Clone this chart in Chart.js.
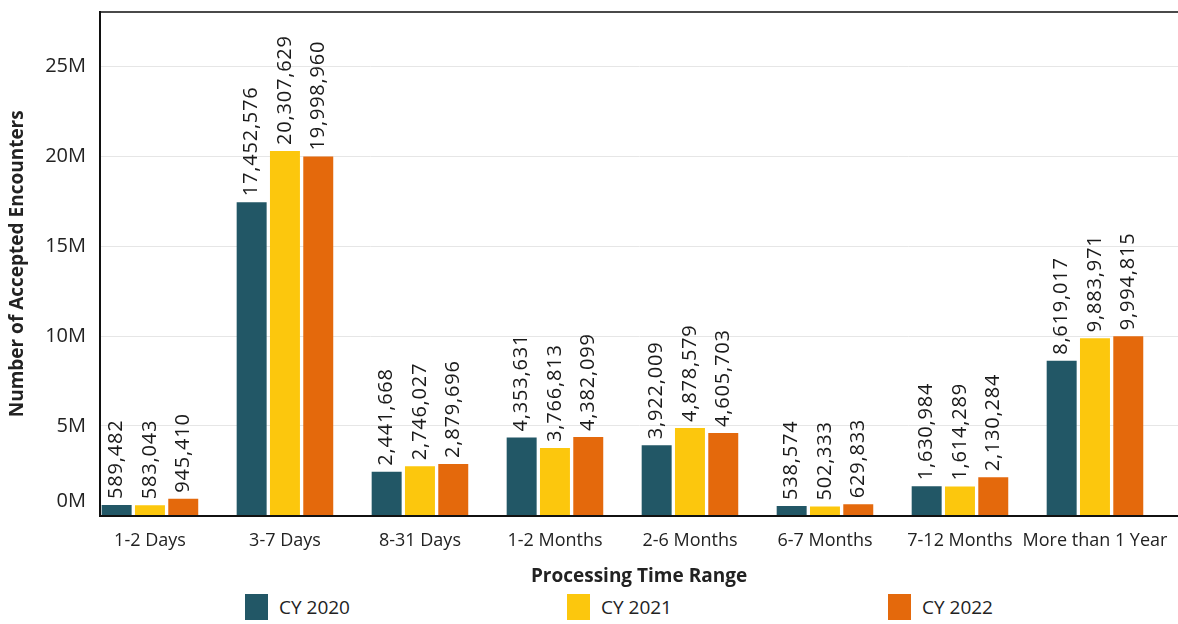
<!DOCTYPE html>
<html>
<head>
<meta charset="utf-8">
<script src="https://cdn.jsdelivr.net/npm/chart.js@4"></script>
<style>
  body { margin: 0; background: #fff; font-family: "Open Sans", sans-serif; }
  #wrap { position: relative; width: 1178px; height: 592px; }
  #legend { position: absolute; left: 0; top: 594px; width: 1178px; height: 28px; }
  .item { position: absolute; top: 0; display: flex; align-items: center; font-size: 19px; color: #222; }
  .swatch { width: 23px; height: 26px; margin-right: 11px; }
</style>
</head>
<body>
<div id="wrap"><canvas id="encChart" width="1178" height="592"></canvas></div>
<div id="legend"></div>
<script>
const categories = ['1-2 Days', '3-7 Days', '8-31 Days', '1-2 Months', '2-6 Months', '6-7 Months', '7-12 Months', 'More than 1 Year'];
const cy2020 = [589482, 17452576, 2441668, 4353631, 3922009, 538574, 1630984, 8619017];
const cy2021 = [583043, 20307629, 2746027, 3766813, 4878579, 502333, 1614289, 9883971];
const cy2022 = [945410, 19998960, 2879696, 4382099, 4605703, 629833, 2130284, 9994815];
const seriesNames = ['CY 2020', 'CY 2021', 'CY 2022'];
const seriesColors = ['#225766', '#fcc70d', '#e4690c'];
const yTicks = [0, 5e6, 10e6, 15e6, 20e6, 25e6];

const yMax = 28.05e6;
const xMin = -0.37, xMax = 7.615;

// value labels standing on top of each bar, rotated
const barLabels = {
    id: 'barLabels',
    afterDatasetsDraw(chart) {
        const ctx = chart.ctx;
        ctx.save();
        ctx.font = '500 20px "Open Sans"';
        ctx.letterSpacing = '0.8px';
        ctx.fillStyle = '#1a1a1a';
        ctx.textAlign = 'left';
        ctx.textBaseline = 'middle';
        chart.data.datasets.forEach((ds, i) => {
            chart.getDatasetMeta(i).data.forEach((bar, j) => {
                ctx.save();
                ctx.translate(bar.x, bar.y - 6);
                ctx.rotate(-Math.PI / 2);
                ctx.fillText(ds.data[j].y.toLocaleString('en-US'), 0, 0);
                ctx.restore();
            });
        });
        ctx.restore();
    }
};

const toPoints = arr => arr.map((v, i) => ({ x: i, y: v }));

const chart = new Chart(document.getElementById('encChart'), {
    type: 'bar',
    data: {
        datasets: [cy2020, cy2021, cy2022].map((vals, i) => ({
            label: seriesNames[i],
            data: toPoints(vals),
            backgroundColor: seriesColors[i],
            categoryPercentage: 0.74,
            barPercentage: 0.9
        }))
    },
    options: {
        responsive: false,
        animation: false,
        layout: { padding: { top: 0, right: 0, bottom: 4, left: 0 } },
        plugins: {
            legend: { display: false },
            tooltip: { enabled: false }
        },
        scales: {
            x: {
                type: 'linear',
                bounds: 'data',
                offset: false,
                min: xMin,
                max: xMax,
                afterBuildTicks: scale => {
                    scale.ticks = categories.map((c, i) => ({ value: i }));
                },
                ticks: {
                    autoSkip: false,
                    maxRotation: 0,
                    padding: 0,
                    color: '#222',
                    font: { family: 'Open Sans', size: 18 },
                    callback: v => categories[v] || ''
                },
                grid: {
                    drawOnChartArea: false,
                    tickLength: 14,
                    tickColor: 'rgba(0,0,0,0)'
                },
                border: { color: '#111', width: 2 },
                title: {
                    display: true,
                    text: 'Processing Time Range',
                    color: '#222',
                    font: { family: 'Open Sans', size: 19, weight: 'bold' },
                    padding: { top: 14, bottom: 0 }
                }
            },
            // frame line along the top of the plot
            xTop: {
                type: 'linear',
                position: 'top',
                bounds: 'data',
                offset: false,
                min: xMin,
                max: xMax,
                ticks: { display: false },
                grid: { drawOnChartArea: false, drawTicks: false },
                border: { color: '#4a4a4a', width: 2 }
            },
            y: {
                bounds: 'data',
                min: 0,
                max: yMax,
                afterBuildTicks: scale => {
                    scale.ticks = yTicks.map(v => ({ value: v }));
                },
                afterFit: scale => { scale.width = 100; },
                ticks: {
                    padding: 0,
                    color: '#222',
                    font: ctx => ({ family: 'Open Sans', size: 20, lineHeight: ctx.tick && ctx.tick.value === 0 ? 1.45 : 1.2 }),
                    callback: v => v === 0 ? ['0M', ''] : (v / 1e6) + 'M'
                },
                grid: {
                    color: '#e6e6e6',
                    tickLength: 14,
                    tickColor: 'rgba(0,0,0,0)'
                },
                border: { color: '#111', width: 2 },
                title: {
                    display: true,
                    text: 'Number of Accepted Encounters',
                    color: '#222',
                    font: { family: 'Open Sans', size: 19, weight: 'bold' },
                    padding: { top: 6, bottom: 0 }
                }
            }
        }
    },
    plugins: [barLabels]
});

// legend spread across the bottom
const legendSlots = [245, 567, 888];
const legendEl = document.getElementById('legend');
chart.data.datasets.forEach((ds, i) => {
    const item = document.createElement('div');
    item.className = 'item';
    item.style.left = legendSlots[i] + 'px';
    item.innerHTML = `<span class="swatch" style="background:${ds.backgroundColor}"></span>${ds.label}`;
    legendEl.appendChild(item);
});
</script>
</body>
</html>
